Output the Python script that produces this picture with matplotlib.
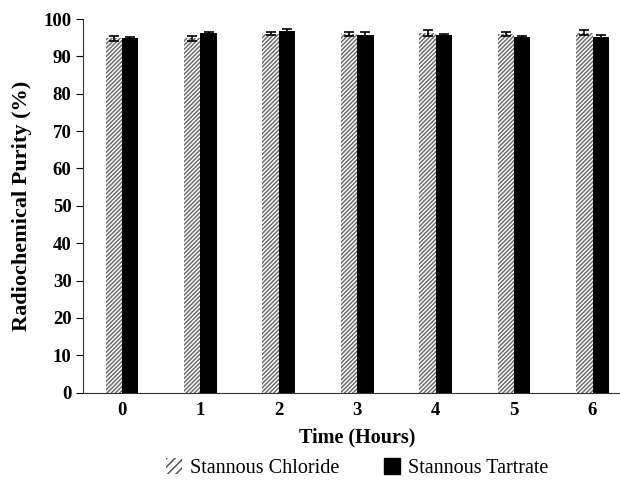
import numpy as np
import matplotlib.pyplot as plt
from matplotlib.patches import Patch

# data
hours = [0, 1, 2, 3, 4, 5, 6]
chloride = [94.8, 94.8, 96.1, 95.9, 96.2, 96.0, 96.3]
chloride_err = [0.6, 0.7, 0.5, 0.5, 0.8, 0.5, 0.7]
tartrate = [94.8, 96.3, 96.8, 95.8, 95.6, 95.1, 95.3]
tartrate_err = [0.5, 0.3, 0.5, 0.6, 0.5, 0.3, 0.4]

plt.rcParams['font.family'] = ['Liberation Serif', 'DejaVu Serif']
plt.rcParams['hatch.linewidth'] = 1.1

fig = plt.figure(figsize=(6.2, 4.84), dpi=100)
ax = fig.add_axes([0.1334, 0.1886, 1.019 - 0.1334, 0.9607 - 0.1886])

x = np.arange(len(hours))
w = 0.208

ax.bar(x - w / 2, chloride, w, facecolor='white', edgecolor='#6e6e6e',
       linewidth=0, hatch='////////')
ax.errorbar(x - w / 2, chloride, yerr=chloride_err, fmt='none',
            ecolor='black', elinewidth=1.2, capsize=3.5, capthick=1.2)
ax.bar(x + w / 2, tartrate, w, color='black')
ax.errorbar(x + w / 2, tartrate, yerr=tartrate_err, fmt='none',
            ecolor='black', elinewidth=1.2, capsize=3.5, capthick=1.2)

ax.set_xlim(-0.5, 6.5)
ax.set_ylim(0, 100)
ax.set_yticks(np.arange(0, 101, 10))
ax.set_xticks(x)
ax.set_xticklabels([str(h) for h in hours])
ax.tick_params(axis='x', length=0, pad=7)
ax.tick_params(axis='y', length=5, direction='out', pad=3)
for lab in ax.get_xticklabels() + ax.get_yticklabels():
    lab.set_fontsize(13.5)
    lab.set_fontweight('bold')

ax.spines['top'].set_visible(False)
ax.spines['right'].set_visible(False)
ax.spines['left'].set_color('#333333')
ax.spines['bottom'].set_color('#333333')

ax.set_ylabel('Radiochemical Purity (%)', fontsize=16, fontweight='bold', labelpad=8)
ax.set_xlabel('Time (Hours)', fontsize=14.5, fontweight='bold', labelpad=6)

handles = [Patch(facecolor='white', edgecolor='#555555', linewidth=0, hatch='////'),
           Patch(facecolor='black', edgecolor='black')]
fig.legend(handles, ['Stannous Chloride', 'Stannous Tartrate'], loc='center',
           bbox_to_anchor=(357 / 620, 16 / 484), ncol=2, frameon=False,
           fontsize=14.5, handlelength=0.8, handleheight=0.8, handletextpad=0.4,
           columnspacing=2.2)

fig.savefig('out.png', dpi=100)
